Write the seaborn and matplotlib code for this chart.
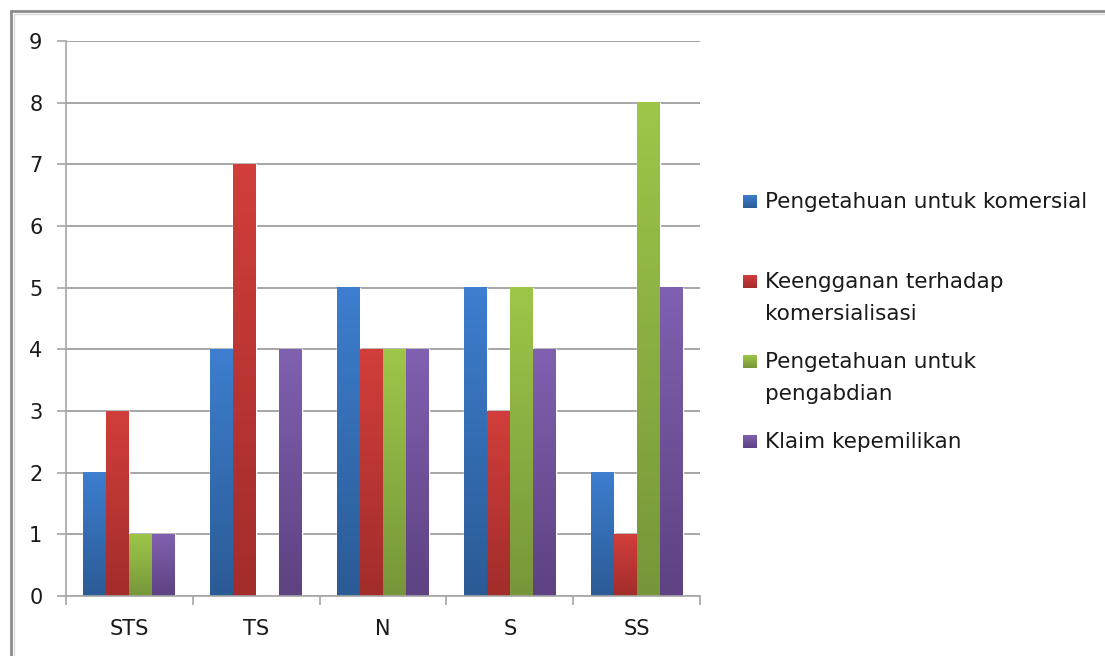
import numpy as np
import pandas as pd
import matplotlib
matplotlib.use("Agg")
import matplotlib.pyplot as plt
from matplotlib.colors import to_rgb
import seaborn as sns

# ---- data ----
categories = ["STS", "TS", "N", "S", "SS"]
series = [
    "Pengetahuan untuk komersial",
    "Keengganan terhadap\nkomersialisasi",
    "Pengetahuan untuk\npengabdian",
    "Klaim kepemilikan",
]
komersial = [2, 4, 5, 5, 2]
keengganan = [3, 7, 4, 3, 1]
pengabdian = [1, 0, 4, 5, 8]
klaim = [1, 4, 4, 4, 5]
y_ticks = [0, 1, 2, 3, 4, 5, 6, 7, 8, 9]

# ---- style ----
top_colors = ["#3D7ECF", "#D13E3B", "#9DC649", "#8060B0"]
bottom_colors = ["#2B5B95", "#A22D2B", "#77963A", "#5E4282"]
base_colors = ["#346EB5", "#BC3633", "#8CB143", "#6F529A"]

sns.set_style("white")
plt.rcParams["font.family"] = ["DejaVu Sans"]

rows = []
for s, vals in zip(series, [komersial, keengganan, pengabdian, klaim]):
    for c, v in zip(categories, vals):
        rows.append({"cat": c, "series": s, "val": v})
df = pd.DataFrame(rows)

W, H = 1105, 656
fig = plt.figure(figsize=(W / 100, H / 100), dpi=100)
ax = fig.add_axes([66 / W, 60 / H, 634 / W, 555 / H])

sns.barplot(data=df, x="cat", y="val", hue="series", order=categories,
            hue_order=series, palette=base_colors, saturation=1,
            width=0.725, errorbar=None, legend=False, ax=ax, zorder=2)


def gradient(c_top, c_bot, n=64):
    t = np.linspace(0, 1, n)[:, None, None]
    a = np.array(to_rgb(c_top))[None, None, :]
    b = np.array(to_rgb(c_bot))[None, None, :]
    return a * (1 - t) + b * t


base_rgb = [np.array(to_rgb(c)) for c in base_colors]
for p in ax.patches:
    h = p.get_height()
    if h <= 0:
        continue
    fc = np.array(p.get_facecolor()[:3])
    idx = int(np.argmin([np.sum((fc - b) ** 2) for b in base_rgb]))
    x0 = p.get_x()
    w = p.get_width()
    ax.imshow(gradient(top_colors[idx], bottom_colors[idx]),
              extent=(x0, x0 + w, 0, h), aspect="auto", origin="upper",
              zorder=2.5, interpolation="bilinear")

ax.set_xlim(-0.5, len(categories) - 0.5)
ax.set_ylim(0, 9)
ax.set_xlabel("")
ax.set_ylabel("")

grid_c = "#A6A6A6"
ax.set_yticks(y_ticks)
ax.yaxis.grid(True, color=grid_c, lw=1.4)
ax.set_axisbelow(True)
for s in ["top", "right"]:
    ax.spines[s].set_visible(False)
for s in ["left", "bottom"]:
    ax.spines[s].set_color(grid_c)
    ax.spines[s].set_linewidth(1.2)

ax.tick_params(axis="y", length=6.5, width=1.2, color=grid_c, pad=10.5,
               labelsize=15, labelcolor="#1a1a1a", direction="out", left=True)
ax.set_xticks(range(len(categories)))
ax.set_xticklabels(categories)
ax.set_xticks(np.arange(-0.5, len(categories), 1.0), minor=True)
ax.tick_params(axis="x", which="major", length=0, pad=16.5, labelsize=15,
               labelcolor="#1a1a1a")
ax.tick_params(axis="x", which="minor", length=6.5, width=1.2, color=grid_c,
               direction="out", bottom=True)

# ---- overlay: frame + legend ----
ov = fig.add_axes([0, 0, 1, 1], facecolor="none")
ov.set_xlim(0, W)
ov.set_ylim(H, 0)
ov.axis("off")
ov.plot([11, 11, W + 5], [H + 5, 11, 11], color="#8C8C8C", lw=2.0,
        solid_joinstyle="miter", zorder=1)
ov.plot([13.5, 13.5, W + 5], [H + 5, 13.5, 13.5], color="#D8D8D8", lw=1.0,
        zorder=1)

legend_baselines = [208, 288, 368, 448]
line_step = 32
for i, (lab, yb) in enumerate(zip(series, legend_baselines)):
    ov.imshow(gradient(top_colors[i], bottom_colors[i]),
              extent=(743, 757, yb, yb - 12.5), aspect="auto",
              origin="upper", zorder=3)
    for j, line in enumerate(lab.split("\n")):
        ov.text(765, yb + j * line_step, line, fontsize=15.5,
                color="#1a1a1a", va="baseline", ha="left")
ov.set_xlim(0, W)
ov.set_ylim(H, 0)

fig.savefig("out.png", dpi=100, facecolor="white")
